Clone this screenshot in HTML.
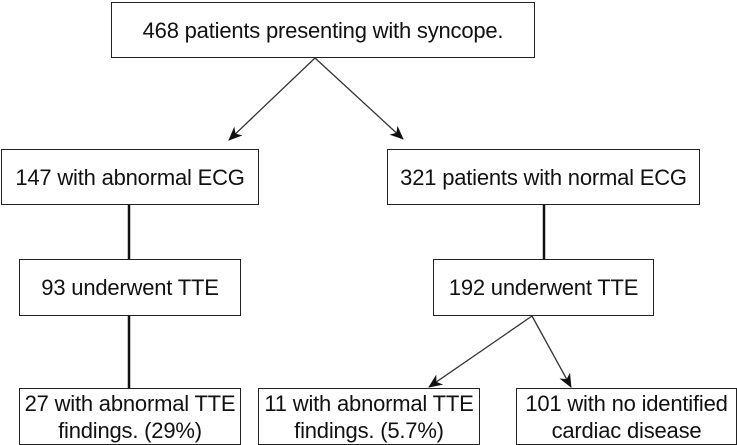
<!DOCTYPE html>
<html><head><style>
body{margin:0;background:#fff;}
.b{position:absolute;border:1.5px solid #222;box-sizing:border-box;display:flex;align-items:center;justify-content:center;text-align:center;font-family:"Liberation Sans",sans-serif;font-size:22px;line-height:27px;color:#111;white-space:nowrap;letter-spacing:-0.2px;}
</style></head><body>
<div style="position:relative;width:737px;height:445px;overflow:hidden">
<svg width="737" height="445" style="position:absolute;left:0;top:0">
<defs><marker id="a" markerWidth="14" markerHeight="12" refX="13" refY="6" orient="auto" markerUnits="userSpaceOnUse"><path d="M0,0 L14,6 L0,12 L4,6z" fill="#111"/></marker></defs>
<g stroke="#333" stroke-width="1.3" fill="none">
<line x1="315" y1="58" x2="229" y2="140" marker-end="url(#a)"/>
<line x1="315" y1="58" x2="403" y2="139" marker-end="url(#a)"/>
<line x1="532" y1="316" x2="429" y2="387" marker-end="url(#a)"/>
<line x1="532" y1="316" x2="571" y2="387" marker-end="url(#a)"/>
</g>
<g stroke="#111" stroke-width="2.5">
<line x1="129" y1="204" x2="129" y2="259"/>
<line x1="129" y1="315" x2="129" y2="388"/>
<line x1="544" y1="204" x2="544" y2="259"/>
</g>
</svg>
<div class="b" style="left:111px;top:2px;width:424px;height:56px">468 patients presenting with syncope.</div>
<div class="b" style="left:1px;top:149px;width:258px;height:56px">147 with abnormal ECG</div>
<div class="b" style="left:387px;top:149px;width:313px;height:56px">321 patients with normal ECG</div>
<div class="b" style="left:19px;top:259px;width:222px;height:57px">93 underwent TTE</div>
<div class="b" style="left:433px;top:259px;width:221px;height:57px">192 underwent TTE</div>
<div class="b" style="left:19px;top:388px;width:222px;height:57px">27 with abnormal TTE<br>findings. (29%)</div>
<div class="b" style="left:258px;top:388px;width:222px;height:57px">11 with abnormal TTE<br>findings. (5.7%)</div>
<div class="b" style="left:516px;top:388px;width:221px;height:57px">101 with no identified<br>cardiac disease</div>
</div>
</body></html>
